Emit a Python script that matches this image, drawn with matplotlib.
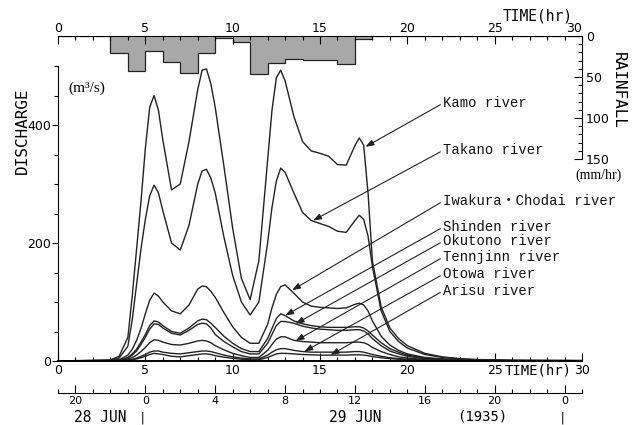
import numpy as np
import matplotlib.pyplot as plt
from matplotlib.ticker import MultipleLocator, FixedLocator

# hourly rainfall (mm/hr), hour 0..29
rain_edges = np.arange(0, 31)
rain = [0, 0, 0, 21, 43, 18, 32, 45, 21, 2, 7, 46, 33, 28, 29, 29, 34, 4,
        0, 0, 0, 0, 0, 0, 0, 0, 0, 0, 0, 0]

# time of discharge readings (hr)
t = [0, 3, 3.5, 4, 4.25, 4.5, 4.75, 5, 5.25, 5.5,
     5.75, 6, 6.5, 7, 7.5, 8, 8.25, 8.5, 8.75, 9,
     9.5, 10, 10.5, 11, 11.5, 12, 12.25, 12.5, 12.75, 13,
     13.5, 14, 14.5, 15, 15.5, 16, 16.5, 17, 17.25, 17.5,
     17.75, 18, 18.5, 19, 19.5, 20, 21, 22, 23, 24,
     26, 30]

kamo = [0, 2, 8, 40, 110, 190, 270, 360, 430, 450,
        425, 375, 290, 300, 372, 460, 493, 495, 470, 430,
        330, 225, 140, 104, 170, 340, 425, 480, 493, 475,
        415, 372, 356, 352, 347, 333, 332, 365, 378, 366,
        285, 170, 92, 56, 38, 26, 13, 7, 4, 2.5,
        1.5, 1]
takano = [0, 1, 5, 25, 70, 130, 190, 240, 280, 298,
          285, 255, 200, 188, 230, 300, 322, 325, 310, 285,
          210, 145, 100, 78, 100, 200, 260, 305, 327, 320,
          285, 252, 238, 233, 228, 220, 218, 238, 247, 240,
          212, 160, 85, 50, 33, 22, 11, 6, 3.5, 2,
          1, 0.5]
iwakura = [0, 0.5, 2, 10, 20, 35, 55, 80, 103, 115,
           110, 100, 85, 80, 95, 122, 127, 126, 118, 108,
           82, 58, 40, 30, 30, 62, 90, 113, 126, 129,
           115, 100, 93, 91, 90, 89, 90, 96, 98, 95,
           85, 68, 42, 27, 18, 12, 6, 3.5, 2, 1.2,
           0.6, 0.3]
shinden = [0, 0.3, 1.5, 6, 12, 20, 32, 45, 60, 68,
           66, 60, 50, 47, 56, 68, 71, 70, 64, 57,
           42, 30, 21, 16, 16, 38, 55, 72, 80, 77,
           68, 63, 60, 58, 57, 57, 57, 58, 58, 56,
           51, 44, 31, 21, 15, 10, 5, 3, 1.8, 1,
           0.5, 0.3]
okutono = [0, 0.3, 1.2, 5, 10, 17, 28, 40, 54, 63,
           62, 56, 47, 44, 52, 62, 64, 63, 56, 45,
           33, 24, 16, 12, 12, 30, 45, 60, 67, 67,
           64, 59, 56, 54, 53, 52, 52, 53, 53, 51,
           46, 38, 26, 17, 12, 8, 4, 2.5, 1.5, 0.9,
           0.4, 0.2]
tennjinn = [0, 0.2, 0.8, 3, 6, 10, 16, 23, 31, 36,
            35, 32, 28, 27, 30, 34, 35, 34, 31, 26,
            19, 13, 9, 6, 6, 18, 28, 37, 41, 41,
            35, 33, 32, 31, 31, 31, 31, 32, 32, 31,
            28, 23, 16, 11, 7, 5, 2.5, 1.5, 0.9, 0.5,
            0.3, 0.1]
otowa = [0, 0.1, 0.4, 1.5, 3, 5, 8, 11, 15, 17,
         17, 15, 13, 12, 14, 16, 17, 17, 16, 14,
         10, 7, 5, 3.5, 3.5, 10, 15, 19, 21, 21,
         18, 16, 15, 15, 15, 15, 15, 16, 16, 15,
         13, 11, 8, 5.5, 4, 3, 1.5, 0.8, 0.5, 0.3,
         0.2, 0.1]
arisu = [0, 0.1, 0.3, 1, 2, 3.5, 5.5, 8, 11, 13,
         12, 11, 8, 7, 9, 11, 12, 12, 11, 9,
         6.5, 4.5, 3, 2, 2, 6, 9, 12, 13, 13,
         12, 11, 10.5, 10, 10, 10, 10, 10.5, 10.5, 10,
         9, 7.5, 5.5, 4, 3, 2, 1, 0.6, 0.4, 0.2,
         0.1, 0]

rivers = ["Kamo river", "Takano river", "Iwakura・Chodai river", "Shinden river",
          "Okutono river", "Tennjinn river", "Otowa river", "Arisu river"]
series = [kamo, takano, iwakura, shinden, okutono, tennjinn, otowa, arisu]
# arrow tip (time, discharge) and label position
arrow_tip = [(17.6, 363), (14.6, 238), (13.4, 120), (13.0, 77),
             (13.6, 63), (13.6, 34), (14.1, 16), (15.6, 10)]
label_pos = [(22.05, 437), (22.05, 357), (22.05, 271), (22.05, 227),
             (22.05, 203), (22.05, 176), (22.05, 147), (22.05, 119)]

num_font = "DejaVu Sans"
mono = "DejaVu Sans Mono"
label_font = ["Liberation Mono", "Noto Sans CJK JP"]
ink = "#222222"

fig = plt.figure(figsize=(6.35, 4.25), dpi=100)

W, H = 635.0, 425.0
def box(x0, y0, x1, y1):
    return [x0 / W, 1 - y1 / H, (x1 - x0) / W, (y1 - y0) / H]

# discharge axes
ax = fig.add_axes(box(58, 66, 582, 361))
ax.patch.set_alpha(0)
for q in series:
    ax.plot(t, q, color=ink, lw=1.0, solid_joinstyle="round")
ax.set_xlim(0, 30)
ax.set_ylim(0, 500)
ax.spines["top"].set_visible(False)
ax.spines["right"].set_visible(False)
ax.spines["bottom"].set_linewidth(1.4)
ax.xaxis.set_major_locator(MultipleLocator(5))
ax.xaxis.set_minor_locator(MultipleLocator(1))
ax.yaxis.set_major_locator(FixedLocator([0, 200, 400]))
ax.yaxis.set_minor_locator(MultipleLocator(50))
ax.tick_params(axis="x", which="major", direction="in", length=6, width=0.8, pad=2, labelsize=9)
ax.tick_params(axis="x", which="minor", direction="in", length=3, width=0.8)
ax.tick_params(axis="y", which="major", direction="out", length=4, width=0.8, pad=1, labelsize=9)
ax.tick_params(axis="y", which="minor", direction="out", length=3, width=0.8)
for lab in ax.get_xticklabels() + ax.get_yticklabels():
    lab.set_family(num_font)

for name, tip, pos in zip(rivers, arrow_tip, label_pos):
    ax.annotate(name, xy=tip, xytext=pos, textcoords="data", ha="left", va="center",
                fontsize=10, family=label_font, color="#111111",
                arrowprops=dict(arrowstyle="-|>,head_length=0.5,head_width=0.18",
                                color=ink, lw=0.8, shrinkA=0, shrinkB=0, relpos=(0, 0.5)))

fig.text(22 / W, 1 - 131 / H, "DISCHARGE", rotation=90, ha="center", va="center",
         family=mono, fontsize=11.5)
fig.text(87 / W, 1 - 88 / H, "(m³/s)", ha="center", va="center",
         family="Liberation Serif", fontsize=11)
fig.text(505 / W, 1 - 371 / H, "TIME(hr)", ha="left", va="center", family=mono, fontsize=10)

# rainfall axes (hanging from the top)
axr = fig.add_axes(box(58, 36, 582, 159))
axr.patch.set_alpha(0)
axr.stairs(rain, rain_edges, baseline=0, fill=True, facecolor="#a8a8a8", edgecolor="none")
axr.stairs(rain, rain_edges, baseline=0, color=ink, lw=0.9)
axr.set_xlim(0, 30)
axr.set_ylim(150, 0)
axr.spines["left"].set_visible(False)
axr.spines["bottom"].set_visible(False)
axr.xaxis.tick_top()
axr.yaxis.tick_right()
axr.xaxis.set_major_locator(MultipleLocator(5))
axr.xaxis.set_minor_locator(MultipleLocator(1))
axr.set_xticklabels(["", "0", "5", "10", "15", "20", "25", ""])
axr.yaxis.set_major_locator(MultipleLocator(50))
axr.yaxis.set_minor_locator(MultipleLocator(10))
axr.tick_params(axis="x", which="major", direction="in", length=6, width=0.8, pad=1, labelsize=9)
axr.tick_params(axis="x", which="minor", direction="in", length=3, width=0.8)
axr.tick_params(axis="y", which="major", direction="in", length=6, width=0.8, pad=3, labelsize=9)
axr.tick_params(axis="y", which="minor", direction="in", length=3, width=0.8)
for lab in axr.get_xticklabels() + axr.get_yticklabels():
    lab.set_family(num_font)

fig.text(574 / W, 1 - 29 / H, "30", ha="center", va="center", family=num_font, fontsize=9)
fig.text(618 / W, 1 - 90 / H, "RAINFALL", rotation=-90, ha="center", va="center",
         family=mono, fontsize=11.5)
fig.text(598 / W, 1 - 175 / H, "(mm/hr)", ha="center", va="center",
         family="Liberation Serif", fontsize=10)
fig.text(503 / W, 1 - 16 / H, "TIME(hr)", ha="left", va="center", family=mono, fontsize=10.5)

# clock-time axis
clock_pos = [1, 5, 9, 13, 17, 21, 25, 29]
clock_lab = ["20", "0", "4", "8", "12", "16", "20", "0"]
axc = fig.add_axes(box(58, 392, 582, 393))
axc.patch.set_alpha(0)
axc.set_xlim(0, 30)
axc.set_ylim(0, 1)
for s in ["left", "right", "top"]:
    axc.spines[s].set_visible(False)
axc.set_yticks([])
axc.xaxis.set_major_locator(FixedLocator(clock_pos))
axc.xaxis.set_minor_locator(MultipleLocator(1))
axc.set_xticklabels(clock_lab)
axc.tick_params(axis="x", which="major", direction="in", length=6, width=0.8, pad=2, labelsize=8)
axc.tick_params(axis="x", which="minor", direction="in", length=3, width=0.8)
for lab in axc.get_xticklabels():
    lab.set_family(num_font)

fig.text(100 / W, 1 - 418 / H, "28 JUN", ha="center", va="center", family=mono, fontsize=10.5)
fig.text(143 / W, 1 - 418 / H, "|", ha="center", va="center", family=mono, fontsize=9)
fig.text(355 / W, 1 - 418 / H, "29 JUN", ha="center", va="center", family=mono, fontsize=10.5)
fig.text(482 / W, 1 - 416 / H, "(1935)", ha="center", va="center", family=mono, fontsize=10)
fig.text(563 / W, 1 - 418 / H, "|", ha="center", va="center", family=mono, fontsize=9)

fig.savefig("out.png", dpi=100)
